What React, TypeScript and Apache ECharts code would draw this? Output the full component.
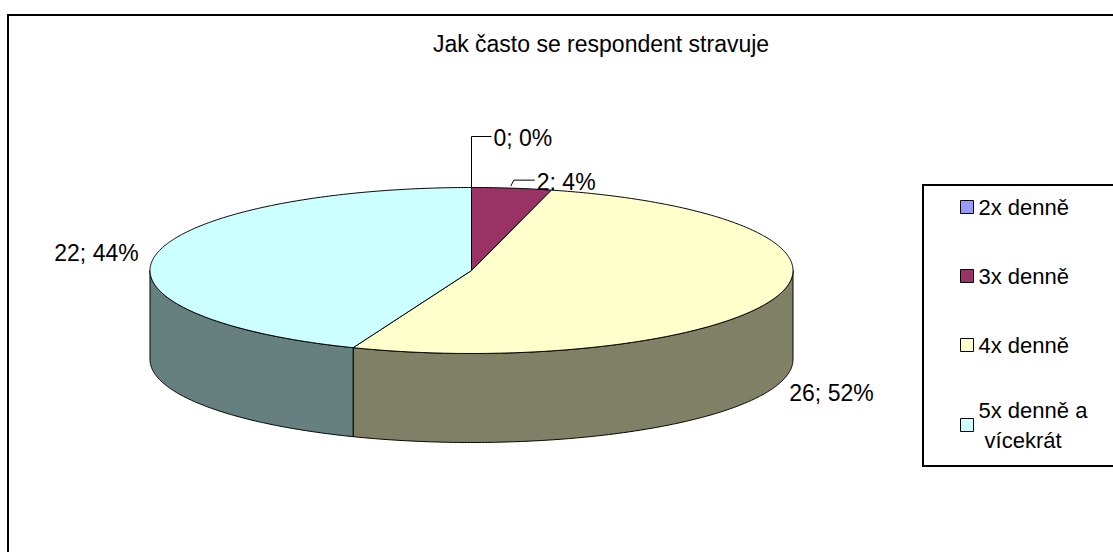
import React, { useEffect, useRef } from "react";
import * as echarts from "echarts";

const TITLE = "Jak často se respondent stravuje";
const CATEGORIES = ["2x denně", "3x denně", "4x denně", "5x denně a vícekrát"];
const VALUES = [0, 2, 26, 22];
const TOP_COLORS = ["#9999FF", "#993366", "#FFFFCC", "#CCFFFF"];
const SIDE_COLORS = ["#4C4C80", "#4D1A33", "#808066", "#668080"];

// 3D pie geometry (pixels)
const PIE = { cx: 471.5, cy: 270.5, rx: 321.5, ry: 83, depth: 89 };

// label placement relative to the slice's mid-angle anchor on the rim
const LABEL_LAYOUT: any[] = [
  { leader: [[0, 0], [0, -51], [20, -51]], dx: 22, dy: -50, align: "left" },
  { leader: [[-1, -2], [2, -8], [23, -8]], dx: 25, dy: -6, align: "left" },
  { leader: null, dx: 12, dy: 8, align: "left" },
  { leader: null, dx: -17, dy: -2, align: "right" },
];

const FONT = "Arial, 'Liberation Sans', sans-serif";

const TOTAL = VALUES.reduce((a, b) => a + b, 0);
const STARTS = VALUES.map((_, i) => VALUES.slice(0, i).reduce((a, b) => a + b, 0));

function pt(theta: number, dy = 0): number[] {
  return [PIE.cx + PIE.rx * Math.sin(theta), PIE.cy - PIE.ry * Math.cos(theta) + dy];
}

function arc(a0: number, a1: number, dy = 0): number[][] {
  const n = Math.max(2, Math.ceil((a1 - a0) / (Math.PI / 360)));
  const pts: number[][] = [];
  for (let k = 0; k <= n; k++) pts.push(pt(a0 + ((a1 - a0) * k) / n, dy));
  return pts;
}

function makeRender(i: number) {
  return (params: any, api: any) => {
    const v = api.value(0);
    const a0 = (STARTS[i] / TOTAL) * Math.PI * 2;
    const a1 = ((STARTS[i] + v) / TOTAL) * Math.PI * 2;
    const children: any[] = [];
    if (v > 0) {
      const s0 = Math.max(a0, Math.PI / 2);
      const s1 = Math.min(a1, (Math.PI * 3) / 2);
      if (s1 > s0) {
        const top = arc(s0, s1);
        const bottom = arc(s0, s1, PIE.depth).reverse();
        children.push({
          type: "polygon",
          shape: { points: top.concat(bottom) },
          style: { fill: SIDE_COLORS[i], stroke: "#000", lineWidth: 1 },
        });
      }
      children.push({
        type: "polygon",
        shape: { points: [[PIE.cx, PIE.cy]].concat(arc(a0, a1)) },
        style: { fill: TOP_COLORS[i], stroke: "#000", lineWidth: 1 },
      });
    }
    const mid = (a0 + a1) / 2;
    const front = Math.cos(mid) < 0;
    const anchor = pt(mid, front ? PIE.depth : 0);
    const lay = LABEL_LAYOUT[i];
    if (lay.leader) {
      children.push({
        type: "polyline",
        shape: { points: lay.leader.map((p: number[]) => [anchor[0] + p[0], anchor[1] + p[1]]) },
        style: { stroke: "#000", lineWidth: 1, fill: null },
      });
    }
    const pct = Math.round((v / TOTAL) * 100);
    children.push({
      type: "text",
      x: anchor[0] + lay.dx,
      y: anchor[1] + lay.dy,
      style: {
        text: `${v}; ${pct}%`,
        fill: "#000",
        fontSize: 23,
        fontFamily: FONT,
        align: lay.align,
        verticalAlign: "middle",
      },
    });
    return { type: "group", children };
  };
}

export default function App() {
  const ref = useRef<HTMLDivElement>(null);
  useEffect(() => {
    if (!ref.current) return;
    const chart = echarts.init(ref.current, undefined, { renderer: "svg" });
    chart.setOption({
      animation: false,
      backgroundColor: "#ffffff",
      title: {
        text: TITLE,
        left: 601,
        top: 44,
        padding: 0,
        textAlign: "center",
        textVerticalAlign: "middle",
        textStyle: { fontSize: 23, fontWeight: "normal", fontFamily: FONT, color: "#000" },
      },
      legend: {
        orient: "vertical",
        left: 960,
        top: 192,
        padding: 0,
        itemGap: 39,
        itemWidth: 13,
        itemHeight: 13,
        icon: "rect",
        selectedMode: false,
        itemStyle: { borderColor: "#000", borderWidth: 1 },
        textStyle: {
          fontSize: 22,
          fontFamily: FONT,
          color: "#000",
          lineHeight: 30,
          width: 120,
          overflow: "break",
        },
        data: CATEGORIES.map((name, i) =>
          i === CATEGORIES.length - 1 ? { name, textStyle: { height: 30 } } : { name }
        ),
      },
      graphic: [
        {
          type: "rect",
          silent: true,
          shape: { x: 8, y: 15, width: 1200, height: 600 },
          style: { fill: "none", stroke: "#000", lineWidth: 2 },
        },
        {
          type: "rect",
          silent: true,
          shape: { x: 923, y: 185, width: 300, height: 281 },
          style: { fill: "none", stroke: "#000", lineWidth: 2 },
        },
      ],
      series: CATEGORIES.map((name, i) => ({
        type: "custom",
        name,
        coordinateSystem: "none",
        silent: true,
        itemStyle: { color: TOP_COLORS[i], borderColor: "#000", borderWidth: 1 },
        data: [[VALUES[i]]],
        renderItem: makeRender(i),
      })),
    });
    return () => chart.dispose();
  }, []);
  return (
    <div
      ref={ref}
      style={{ position: "fixed", left: 0, top: 0, width: 1113, height: 552, background: "#fff" }}
    />
  );
}
